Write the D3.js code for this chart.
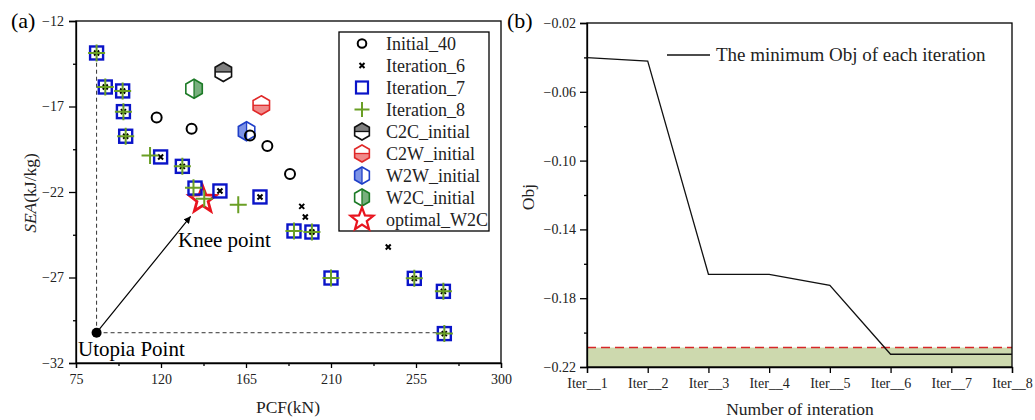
<!DOCTYPE html>
<html><head><meta charset="utf-8">
<script src="https://cdn.jsdelivr.net/npm/d3@7"></script>
<style>body{margin:0;background:#fff}svg{display:block;font-family:"Liberation Serif","Times New Roman",serif}</style>
</head><body>
<svg id="c" width="1035" height="420"></svg>
<script>
// ---------- Data (panel a) ----------
const initial40 = [[117.7,-17.65],[136.2,-18.30],[167.1,-18.69],[176.3,-19.31],[188.3,-20.95]];
const iteration6 = [[85.9,-13.87],[90.5,-15.86],[99.7,-16.09],[100.1,-17.30],[101.3,-18.74],[119.8,-19.95],[131.3,-20.50],[151.2,-21.94],[172.4,-22.29],[194.5,-22.84],[196.4,-23.46],[199.9,-24.34],[240.3,-25.22],[254.1,-27.05],[269.5,-27.81],[270.0,-30.28]];
const iteration7 = [[85.9,-13.87],[90.5,-15.86],[99.7,-16.09],[100.1,-17.30],[101.3,-18.74],[119.8,-19.95],[131.3,-20.50],[138.0,-21.77],[151.2,-21.94],[172.4,-22.29],[190.4,-24.28],[199.9,-24.34],[210.0,-27.03],[254.1,-27.05],[269.5,-27.81],[270.0,-30.28]];
const iteration8 = [[85.9,-13.87],[90.5,-15.86],[99.7,-16.09],[100.1,-17.30],[101.3,-18.74],[114.2,-19.86],[131.3,-20.50],[137.2,-21.75],[142.9,-22.39],[160.9,-22.74],[190.4,-24.28],[199.9,-24.34],[210.0,-27.03],[254.1,-27.05],[269.5,-27.81],[270.0,-30.28]];
const hexNames = ["C2C_initial","C2W_initial","W2W_initial","W2C_initial"];
const hexPoints = [[153.0,-14.98],[173.1,-16.93],[165.3,-18.45],[137.5,-15.96]];
const optimalW2C = [142.0,-22.45];
const utopia = [85.9,-30.23];
const kneeArrowEnd = [135.7,-23.42];
const xTicksA = [75,120,165,210,255,300];
const yTicksA = [-12,-17,-22,-27,-32];
const legendA = ["Initial_40","Iteration_6","Iteration_7","Iteration_8","C2C_initial","C2W_initial","W2W_initial","W2C_initial","optimal_W2C"];

// ---------- Data (panel b) ----------
const iterations = ["Iter__1","Iter__2","Iter__3","Iter__4","Iter__5","Iter__6","Iter__7","Iter__8"];
const minObj = [-0.0401,-0.0421,-0.1661,-0.1661,-0.1725,-0.2126,-0.2126,-0.2126];
const threshold = -0.2087;
const yTicksB = [-0.02,-0.06,-0.10,-0.14,-0.18,-0.22];

// ---------- Styles ----------
const FONT = "Liberation Serif";
const BLUE="#0a14c8", GREEN="#6a9f25", RED="#e8141e";
const hexStyle = {
  C2C_initial:{stroke:"#111",fill:"#7f7f7f",half:"top"},
  C2W_initial:{stroke:"#e02828",fill:"#f08a8a",half:"bottom"},
  W2W_initial:{stroke:"#1f3fc8",fill:"#7d93e6",half:"left"},
  W2C_initial:{stroke:"#1c7a26",fill:"#78b07e",half:"right"}
};

const svg = d3.select("#c");

// ---------- Panel a ----------
const xA = d3.scaleLinear().domain([75,300]).range([76,501]);
const yA = d3.scaleLinear().domain([-32,-12]).range([363,21]);
const gA = svg.append("g");

function axisStyle(g){ g.attr("font-family",FONT);
  g.selectAll("path,line").attr("stroke","#000").attr("stroke-width",1.3);
  g.selectAll("text").attr("font-family",FONT).attr("font-size",14).attr("fill","#222"); }

// minor ticks
gA.append("g").attr("transform","translate(0,363)")
  .call(d3.axisBottom(xA).tickValues(d3.range(97.5,300,45)).tickSize(3).tickFormat(""))
  .call(axisStyle).select(".domain").remove();
gA.append("g").attr("transform","translate(76,0)")
  .call(d3.axisLeft(yA).tickValues(d3.range(-14.5,-32,-5)).tickSize(3).tickFormat(""))
  .call(axisStyle).select(".domain").remove();
gA.append("g").attr("transform","translate(0,363)")
  .call(d3.axisBottom(xA).tickValues(xTicksA).tickSize(5).tickPadding(6).tickFormat(d3.format("d")))
  .call(axisStyle);
gA.append("g").attr("transform","translate(76,0)")
  .call(d3.axisLeft(yA).tickValues(yTicksA).tickSize(7).tickPadding(5).tickFormat(d3.format("d")))
  .call(axisStyle);
gA.append("rect").attr("x",76).attr("y",21).attr("width",425).attr("height",342)
  .attr("fill","none").attr("stroke","#000").attr("stroke-width",1.3);

// dashed lines from utopia
gA.append("line").attr("x1",xA(utopia[0])).attr("x2",xA(utopia[0]))
  .attr("y1",yA(utopia[1])).attr("y2",yA(iteration7[0][1]))
  .attr("stroke","#333").attr("stroke-width",1).attr("stroke-dasharray","4,3");
gA.append("line").attr("x1",xA(utopia[0])).attr("x2",xA(iteration7[15][0]))
  .attr("y1",yA(utopia[1])).attr("y2",yA(utopia[1]))
  .attr("stroke","#333").attr("stroke-width",1).attr("stroke-dasharray","4,3");

// arrow
svg.append("defs").append("marker").attr("id","arr").attr("viewBox","0 0 10 10")
  .attr("refX",10).attr("refY",5).attr("markerWidth",7).attr("markerHeight",7)
  .attr("markerUnits","userSpaceOnUse").attr("orient","auto")
  .append("path").attr("d","M0,0L10,5L0,10z").attr("fill","#000");
gA.append("line").attr("x1",xA(utopia[0])).attr("y1",yA(utopia[1]))
  .attr("x2",xA(kneeArrowEnd[0])).attr("y2",yA(kneeArrowEnd[1]))
  .attr("stroke","#000").attr("stroke-width",1.2).attr("marker-end","url(#arr)");
gA.append("circle").attr("cx",xA(utopia[0])).attr("cy",yA(utopia[1])).attr("r",5).attr("fill","#000");

// symbol helpers
function hexagon(g, cx, cy, r, st){
  const w = r*Math.cos(Math.PI/6), h = r/2;
  const full = [[0,-r],[w,-h],[w,h],[0,r],[-w,h],[-w,-h]];
  const halves = {
    top:[[-w,0],[-w,-h],[0,-r],[w,-h],[w,0]],
    bottom:[[-w,0],[-w,h],[0,r],[w,h],[w,0]],
    left:[[0,-r],[-w,-h],[-w,h],[0,r]],
    right:[[0,-r],[w,-h],[w,h],[0,r]]
  };
  const line = d3.line();
  const gg = g.append("g").attr("transform",`translate(${cx},${cy})`);
  gg.append("path").attr("d",line(full)+"Z").attr("fill","#fff");
  gg.append("path").attr("d",line(halves[st.half])+"Z").attr("fill",st.fill);
  gg.append("path").attr("d",line(full)+"Z").attr("fill","none").attr("stroke",st.stroke).attr("stroke-width",1.6);
  const div = (st.half==="top"||st.half==="bottom") ? [[-w,0],[w,0]] : [[0,-r],[0,r]];
  gg.append("path").attr("d",line(div)).attr("stroke",st.stroke).attr("stroke-width",1.3);
}
function star(g, cx, cy, R, sw){
  const pts=[]; for(let i=0;i<10;i++){const a=-Math.PI/2+i*Math.PI/5; const rr=i%2?R*0.42:R; pts.push([cx+rr*Math.cos(a),cy+rr*Math.sin(a)]);}
  g.append("path").attr("d",d3.line()(pts)+"Z").attr("fill","none").attr("stroke",RED).attr("stroke-width",sw).attr("stroke-linejoin","miter");
}
function square(g,cx,cy,s,sw){ g.append("rect").attr("x",cx-s/2).attr("y",cy-s/2).attr("width",s).attr("height",s)
  .attr("fill","none").attr("stroke",BLUE).attr("stroke-width",sw); }
function plus(g,cx,cy,s,sw){ g.append("path").attr("d",`M${cx-s/2},${cy}H${cx+s/2}M${cx},${cy-s/2}V${cy+s/2}`)
  .attr("stroke",GREEN).attr("stroke-width",sw); }
function cross(g,cx,cy,s,sw){ g.append("path").attr("d",`M${cx-s/2},${cy-s/2}L${cx+s/2},${cy+s/2}M${cx-s/2},${cy+s/2}L${cx+s/2},${cy-s/2}`)
  .attr("stroke","#000").attr("stroke-width",sw); }
function circ(g,cx,cy,r,sw){ g.append("circle").attr("cx",cx).attr("cy",cy).attr("r",r).attr("fill","none").attr("stroke","#000").attr("stroke-width",sw); }

const marks = gA.append("g");
hexNames.forEach((n,i)=>hexagon(marks,xA(hexPoints[i][0]),yA(hexPoints[i][1]),9.5,hexStyle[n]));
star(marks,xA(optimalW2C[0]),yA(optimalW2C[1]),14,2.8);
initial40.forEach(d=>circ(marks,xA(d[0]),yA(d[1]),5,2));
iteration6.forEach(d=>cross(marks,xA(d[0]),yA(d[1]),5,2));
iteration7.forEach(d=>square(marks,xA(d[0]),yA(d[1]),13,2.4));
iteration8.forEach(d=>plus(marks,xA(d[0]),yA(d[1]),17,2));

// annotations
gA.append("text").attr("x",178).attr("y",247).attr("font-size",21).text("Knee point");
gA.append("text").attr("x",78).attr("y",356).attr("font-size",21).text("Utopia Point");

// legend a
const lg = gA.append("g");
lg.append("rect").attr("x",339).attr("y",32).attr("width",150).attr("height",199)
  .attr("fill","#fff").attr("stroke","#000").attr("stroke-width",1.3);
legendA.forEach((name,i)=>{
  const cy = 43.5 + i*22, cx = 362;
  if(name==="Initial_40") circ(lg,cx,cy,4.3,2);
  else if(name==="Iteration_6") cross(lg,cx,cy,5,2);
  else if(name==="Iteration_7") square(lg,cx,cy,12,2.2);
  else if(name==="Iteration_8") plus(lg,cx,cy,15,2);
  else if(name==="optimal_W2C") star(lg,cx,cy,12,2.2);
  else hexagon(lg,cx,cy,8.5,hexStyle[name]);
  lg.append("text").attr("x",386).attr("y",cy+6).attr("font-size",18).attr("fill","#222").text(name);
});

// titles a
svg.append("text").attr("x",11).attr("y",28).attr("font-size",22).text("(a)");
svg.append("text").attr("x",288).attr("y",413).attr("text-anchor","middle").attr("font-size",17.5).attr("fill","#222").text("PCF(kN)");
const ytA = svg.append("text").attr("transform","translate(36,193) rotate(-90)").attr("text-anchor","middle").attr("font-size",17.5).attr("fill","#222");
ytA.append("tspan").attr("font-style","italic").text("SEA");
ytA.append("tspan").text("(kJ/kg)");

// ---------- Panel b ----------
const xB = d3.scalePoint().domain(iterations).range([587,1012]);
const yB = d3.scaleLinear().domain([-0.22,-0.02]).range([367,23]);
const gB = svg.append("g");

gB.append("rect").attr("x",587).attr("y",yB(threshold)).attr("width",425).attr("height",yB(-0.22)-yB(threshold))
  .attr("fill","#cdd9ae");
gB.append("line").attr("x1",587).attr("x2",1012).attr("y1",yB(threshold)).attr("y2",yB(threshold))
  .attr("stroke","#d62728").attr("stroke-width",1.4).attr("stroke-dasharray","9,5");

gB.append("g").attr("transform","translate(587,0)")
  .call(d3.axisLeft(yB).tickValues(d3.range(-0.04,-0.22,-0.04)).tickSize(3).tickFormat(""))
  .call(axisStyle).select(".domain").remove();
gB.append("g").attr("transform","translate(0,367)")
  .call(d3.axisBottom(xB).tickSize(6).tickPadding(5))
  .call(axisStyle);
gB.append("g").attr("transform","translate(587,0)")
  .call(d3.axisLeft(yB).tickValues(yTicksB).tickSize(7).tickPadding(4).tickFormat(d3.format(".2f")))
  .call(axisStyle);
gB.append("rect").attr("x",587).attr("y",23).attr("width",425).attr("height",344)
  .attr("fill","none").attr("stroke","#000").attr("stroke-width",1.3);

gB.append("path").datum(minObj)
  .attr("d",d3.line().x((d,i)=>xB(iterations[i])).y(d=>yB(d)))
  .attr("fill","none").attr("stroke","#111").attr("stroke-width",1.3);

// legend b
gB.append("line").attr("x1",667).attr("x2",710).attr("y1",55).attr("y2",55).attr("stroke","#111").attr("stroke-width",1.3);
gB.append("text").attr("x",716).attr("y",61).attr("font-size",19).attr("fill","#222").text("The minimum Obj of each iteration");

svg.append("text").attr("x",507).attr("y",28).attr("font-size",22).text("(b)");
svg.append("text").attr("x",800).attr("y",415).attr("text-anchor","middle").attr("font-size",17.5).attr("fill","#222").text("Number of interation");
svg.append("text").attr("transform","translate(534,197) rotate(-90)").attr("text-anchor","middle").attr("font-size",17.5).attr("fill","#222").text("Obj");

svg.selectAll("text").attr("font-family",FONT);
</script>
</body></html>
